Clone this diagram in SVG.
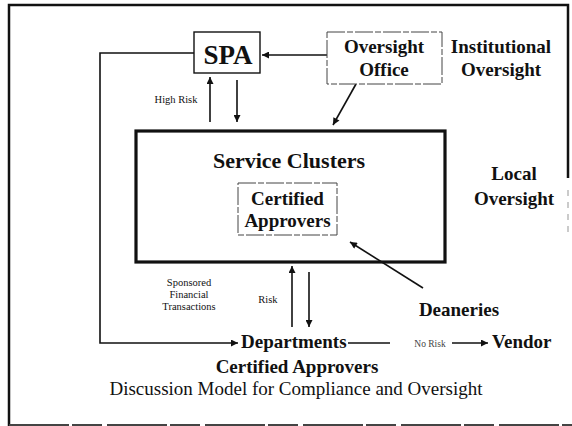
<svg xmlns="http://www.w3.org/2000/svg" width="572" height="426" viewBox="0 0 572 426">
<style>
text{font-family:"Liberation Serif","Times New Roman",serif;fill:#111}
.b{font-weight:bold}
.t19{font-size:19px}
.sm{font-size:10.5px}
.ln{stroke:#111;stroke-width:1.6;fill:none}
.dbox{fill:#fff;stroke:#444;stroke-width:1;stroke-dasharray:18,2,6,2}
</style>
<defs>
<marker id="ah" viewBox="0 0 10 10" refX="10" refY="5" markerWidth="8" markerHeight="7" markerUnits="userSpaceOnUse" orient="auto">
<path d="M0,0 L10,5 L0,10 Z" fill="#111"/>
</marker>
</defs>
<rect width="572" height="426" fill="#fff"/>
<g id="frame">
<path d="M9,426 L9,5 L568,5 L568,178" fill="none" stroke="#111" stroke-width="2.5"/>
<path d="M568,190 L568,232" fill="none" stroke="#bbb" stroke-width="1.5" stroke-dasharray="6,6"/>
<path d="M9,425 L572,425" fill="none" stroke="#444" stroke-width="2" stroke-dasharray="60,3,30,5"/>
</g>
<g id="connectors">
<path class="ln" d="M194,53 L100,53 L100,343 L238,343" marker-end="url(#ah)"/>
<path class="ln" d="M327,55 L262,55" marker-end="url(#ah)"/>
<path class="ln" d="M210,122 L210,77" marker-end="url(#ah)"/>
<path class="ln" d="M237,80 L237,122" marker-end="url(#ah)"/>
<path class="ln" d="M356,84 L333,125" marker-end="url(#ah)" stroke-width="1.2"/>
<path class="ln" d="M423,288 L350,242" marker-end="url(#ah)"/>
<path class="ln" d="M292,327 L292,266" marker-end="url(#ah)"/>
<path class="ln" d="M309,272 L309,327" marker-end="url(#ah)"/>
<path class="ln" d="M348,343 L390,343"/>
<path class="ln" d="M452,343 L488,343" marker-end="url(#ah)"/>
<text class="sm" x="176" y="103" text-anchor="middle">High Risk</text>
<text class="sm" x="268" y="303" text-anchor="middle">Risk</text>
<text class="sm" x="189" y="286" text-anchor="middle">Sponsored</text>
<text class="sm" x="189" y="298" text-anchor="middle">Financial</text>
<text class="sm" x="189" y="310" text-anchor="middle">Transactions</text>
<text x="430" y="347" text-anchor="middle" style="font-size:9.5px;fill:#444">No Risk</text>
</g>
<g id="spa">
<rect x="194" y="32" width="66" height="41" fill="#fff" stroke="#111" stroke-width="1.4"/>
<text class="b" x="228" y="64" text-anchor="middle" style="font-size:27px">SPA</text>
</g>
<g id="oversight-office">
<rect class="dbox" x="327" y="32" width="115" height="52"/>
<text class="b t19" x="384" y="53" text-anchor="middle">Oversight</text>
<text class="b t19" x="384" y="76" text-anchor="middle">Office</text>
</g>
<g id="institutional">
<text class="b t19" x="501" y="53" text-anchor="middle">Institutional</text>
<text class="b t19" x="501" y="76" text-anchor="middle">Oversight</text>
</g>
<g id="service-clusters">
<rect x="136" y="131" width="309" height="131" fill="none" stroke="#111" stroke-width="3.2"/>
<text class="b" x="289" y="168" text-anchor="middle" style="font-size:22px">Service Clusters</text>
</g>
<g id="certified-approvers-box">
<rect class="dbox" x="238" y="183" width="99" height="52"/>
<text class="b t19" x="287.5" y="205" text-anchor="middle">Certified</text>
<text class="b t19" x="287.5" y="227" text-anchor="middle">Approvers</text>
</g>
<g id="local">
<text class="b t19" x="514" y="180" text-anchor="middle">Local</text>
<text class="b t19" x="514" y="205" text-anchor="middle">Oversight</text>
</g>
<g id="deaneries">
<text class="b t19" x="459" y="316" text-anchor="middle">Deaneries</text>
</g>
<g id="departments">
<text class="b t19" x="241" y="348">Departments</text>
<text class="b t19" x="297" y="373" text-anchor="middle">Certified Approvers</text>
</g>
<g id="vendor">
<text class="b t19" x="492" y="348">Vendor</text>
</g>
<g id="caption">
<text x="296" y="395" text-anchor="middle" style="font-size:19px">Discussion Model for Compliance and Oversight</text>
</g>
</svg>
